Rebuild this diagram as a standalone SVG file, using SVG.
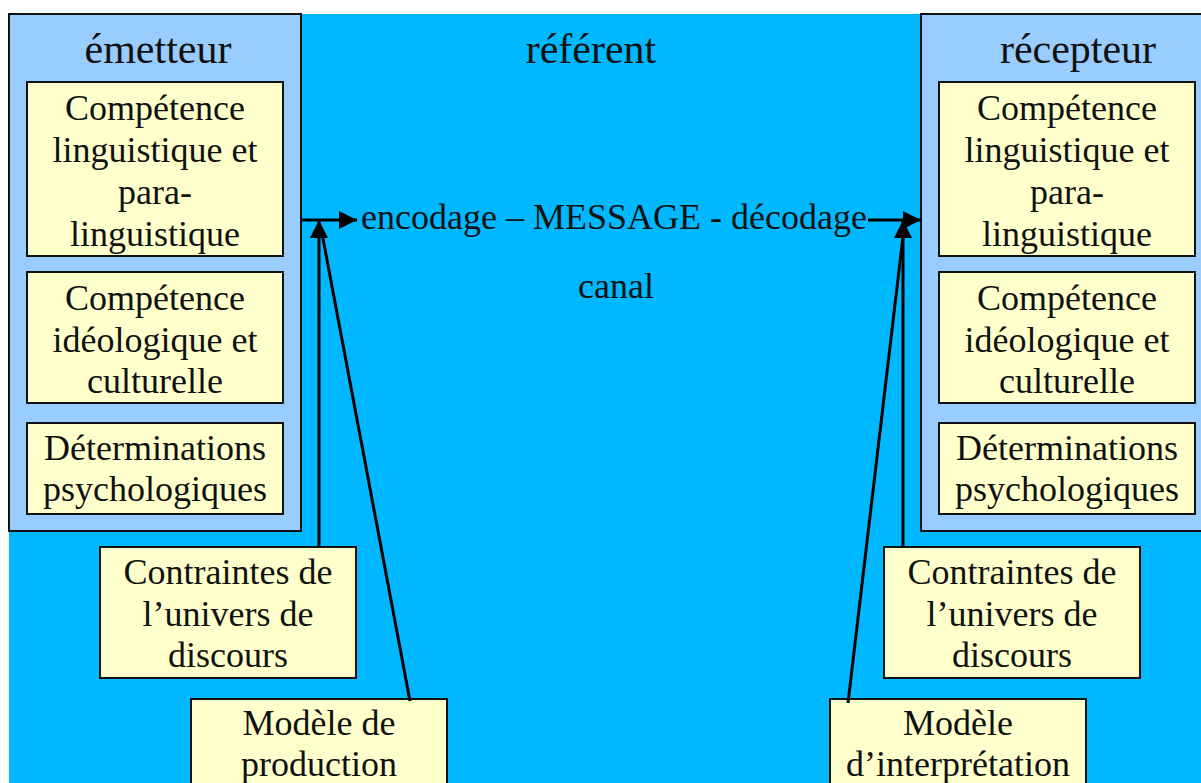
<svg xmlns="http://www.w3.org/2000/svg" width="1201" height="783" viewBox="0 0 1201 783">
<defs>
<style>
.t{font-family:'Liberation Serif','DejaVu Serif',serif;font-size:36px;fill:#111;text-anchor:middle}
.h{font-size:42px}
.panel{fill:#99CCFF;stroke:#111;stroke-width:2}
.box{fill:#FFFFCC;stroke:#111;stroke-width:2}
.ln{stroke:#000;stroke-width:3;fill:none}
</style>
<marker id="ah" viewBox="0 0 10 10" refX="10" refY="5" markerWidth="7" markerHeight="6" markerUnits="strokeWidth" orient="auto">
<path d="M0,0 L10,5 L0,10 z" fill="#000"/>
</marker>
</defs>
<rect x="0" y="0" width="1201" height="783" fill="#fff"/>
<rect x="9" y="14" width="1192" height="769" fill="#00B8FF"/>
<g id="emetteur">
<rect class="panel" x="9" y="14" width="292" height="517"/>
<text class="t h" x="158" y="63">émetteur</text>
</g>
<g id="recepteur">
<rect class="panel" x="921" y="14" width="292" height="517"/>
<text class="t h" x="1078" y="63">récepteur</text>
</g>
<g id="referent"><text class="t h" x="591" y="63">référent</text></g>
<g id="e-ling">
<rect class="box" x="27" y="82" width="256" height="174"/>
<text class="t" x="155" y="120">Compétence</text>
<text class="t" x="155" y="162">linguistique et</text>
<text class="t" x="155" y="204">para-</text>
<text class="t" x="155" y="246">linguistique</text>
</g>
<g id="e-ideo">
<rect class="box" x="27" y="272" width="256" height="131"/>
<text class="t" x="155" y="310">Compétence</text>
<text class="t" x="155" y="352">idéologique et</text>
<text class="t" x="155" y="393">culturelle</text>
</g>
<g id="e-psy">
<rect class="box" x="27" y="423" width="256" height="91"/>
<text class="t" x="155" y="460">Déterminations</text>
<text class="t" x="155" y="501">psychologiques</text>
</g>
<g id="r-ling">
<rect class="box" x="939" y="82" width="256" height="174"/>
<text class="t" x="1067" y="120">Compétence</text>
<text class="t" x="1067" y="162">linguistique et</text>
<text class="t" x="1067" y="204">para-</text>
<text class="t" x="1067" y="246">linguistique</text>
</g>
<g id="r-ideo">
<rect class="box" x="939" y="272" width="256" height="131"/>
<text class="t" x="1067" y="310">Compétence</text>
<text class="t" x="1067" y="352">idéologique et</text>
<text class="t" x="1067" y="393">culturelle</text>
</g>
<g id="r-psy">
<rect class="box" x="939" y="423" width="256" height="91"/>
<text class="t" x="1067" y="460">Déterminations</text>
<text class="t" x="1067" y="501">psychologiques</text>
</g>
<g id="e-contraintes">
<rect class="box" x="100" y="547" width="256" height="131"/>
<text class="t" x="228" y="584">Contraintes de</text>
<text class="t" x="228" y="626">l’univers de</text>
<text class="t" x="228" y="667">discours</text>
</g>
<g id="r-contraintes">
<rect class="box" x="884" y="547" width="256" height="131"/>
<text class="t" x="1012" y="584">Contraintes de</text>
<text class="t" x="1012" y="626">l’univers de</text>
<text class="t" x="1012" y="667">discours</text>
</g>
<g id="e-modele">
<rect class="box" x="191" y="699" width="256" height="110"/>
<text class="t" x="319" y="735">Modèle de</text>
<text class="t" x="319" y="776">production</text>
</g>
<g id="r-modele">
<rect class="box" x="830" y="699" width="256" height="110"/>
<text class="t" x="958" y="735">Modèle</text>
<text class="t" x="958" y="776">d’interprétation</text>
</g>
<g id="message">
<text class="t" x="614" y="229">encodage – MESSAGE - décodage</text>
<text class="t" x="616" y="298">canal</text>
</g>
<g id="connectors">
<line class="ln" x1="301" y1="220" x2="357" y2="220" marker-end="url(#ah)"/>
<line class="ln" x1="868" y1="220" x2="921" y2="220" marker-end="url(#ah)"/>
<line class="ln" x1="319" y1="547" x2="319" y2="220" marker-end="url(#ah)"/>
<line class="ln" x1="410" y1="701" x2="321" y2="228"/>
<line class="ln" x1="903" y1="547" x2="903" y2="220" marker-end="url(#ah)"/>
<line class="ln" x1="848" y1="703" x2="904" y2="228"/>
</g>
</svg>
